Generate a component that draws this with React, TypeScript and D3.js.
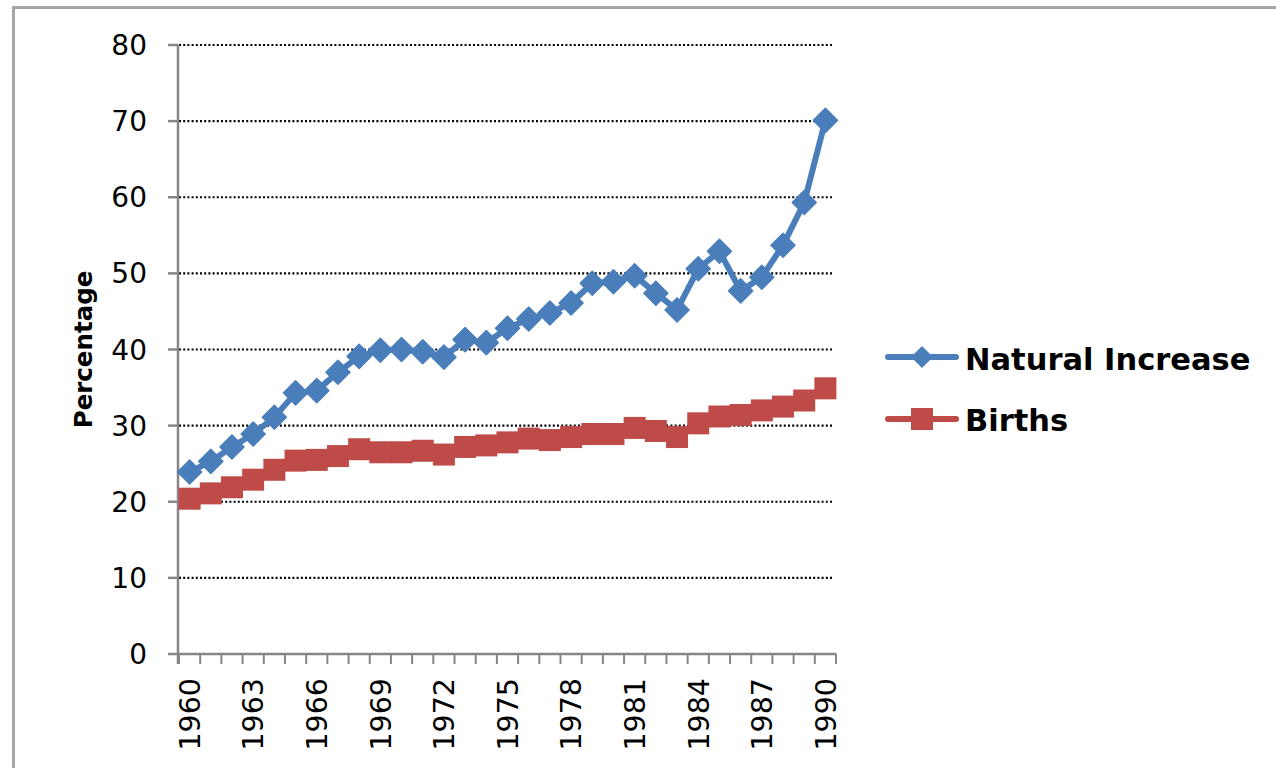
import React from "react";
import * as d3 from "d3";

const years = d3.range(1960, 1991).map(String);
const tickYears = years.filter((_, i) => i % 3 === 0);
const yTicks = [0, 10, 20, 30, 40, 50, 60, 70, 80];

const naturalIncrease = [
  23.9, 25.3, 27.2, 28.9, 31.1, 34.3, 34.6, 37.0, 39.1, 39.9, 40.0, 39.7, 39.0,
  41.3, 40.9, 42.8, 44.0, 44.8, 46.1, 48.7, 48.9, 49.7, 47.4, 45.2, 50.6, 52.9,
  47.7, 49.5, 53.7, 59.3, 70.1,
];
const births = [
  20.4, 21.1, 21.9, 22.9, 24.2, 25.4, 25.5, 26.0, 26.9, 26.5, 26.5, 26.7, 26.2,
  27.2, 27.4, 27.8, 28.3, 28.1, 28.5, 28.9, 28.9, 29.7, 29.3, 28.5, 30.3, 31.2,
  31.4, 32.0, 32.5, 33.3, 34.9,
];

const BLUE = "#4A7EBB";
const RED = "#BE4B48";
const AXIS = "#868686";
const FONT = "DejaVu Sans";

const diamond = (cx: number, cy: number, r: number) =>
  `M${cx},${cy - r}L${cx + r},${cy}L${cx},${cy + r}L${cx - r},${cy}Z`;

export default function App() {
  const width = 1276;
  const height = 768;
  const left = 179;
  const right = 836;
  const top = 45;
  const bottom = 654;

  const x = d3.scaleBand<string>().domain(years).range([left, right]).padding(0);
  const y = d3.scaleLinear().domain([0, 80]).range([bottom, top]);
  const cx = (yr: string) => (x(yr) as number) + x.bandwidth() / 2;

  const line = d3
    .line<number>()
    .x((_, i) => cx(years[i]))
    .y((d) => y(d));

  // tick marks sit between the categories
  const xTickPos = d3.range(years.length + 1).map((i) => left + i * x.bandwidth());

  return (
    <svg
      width={width}
      height={height}
      style={{ position: "absolute", left: 0, top: 0, background: "#fff" }}
    >
      <rect x={13.5} y={7.5} width={1400} height={900} fill="none" stroke="#a6a6a6" strokeWidth={3} />

      {/* gridlines */}
      {yTicks.slice(1).map((t) => (
        <line
          key={"g" + t}
          x1={left}
          x2={833}
          y1={y(t)}
          y2={y(t)}
          stroke="#000"
          strokeWidth={2.2}
          strokeDasharray="2 2.2"
        />
      ))}

      {/* y axis */}
      <line x1={left - 1} x2={left - 1} y1={top} y2={bottom + 10} stroke={AXIS} strokeWidth={2.5} />
      {yTicks.map((t) => (
        <g key={"y" + t}>
          <line x1={left - 11} x2={left - 1} y1={y(t)} y2={y(t)} stroke={AXIS} strokeWidth={2.5} />
          <text
            x={147}
            y={y(t)}
            dy="0.36em"
            textAnchor="end"
            fontFamily={FONT}
            fontSize={28}
            fill="#000"
          >
            {t}
          </text>
        </g>
      ))}
      <text
        transform={`translate(92, ${(top + bottom) / 2}) rotate(-90)`}
        textAnchor="middle"
        fontFamily={FONT}
        fontWeight="bold"
        fontSize={24.5}
      >
        Percentage
      </text>

      {/* x axis */}
      <line x1={left - 2} x2={right} y1={bottom} y2={bottom} stroke={AXIS} strokeWidth={2.5} />
      {xTickPos.map((p, i) => (
        <line key={"xt" + i} x1={p} x2={p} y1={bottom} y2={bottom + 10} stroke={AXIS} strokeWidth={2} />
      ))}
      {tickYears.map((yr) => (
        <text
          key={"xl" + yr}
          transform={`translate(${cx(yr)}, 678) rotate(-90)`}
          dy="0.36em"
          textAnchor="end"
          fontFamily={FONT}
          fontSize={28.5}
        >
          {yr}
        </text>
      ))}

      {/* Births */}
      <path d={line(births) || ""} fill="none" stroke={RED} strokeWidth={6} strokeLinejoin="round" strokeLinecap="round" />
      {births.map((v, i) => (
        <rect key={"b" + i} x={cx(years[i]) - 11} y={y(v) - 11} width={22} height={22} fill={RED} />
      ))}

      {/* Natural Increase */}
      <path d={line(naturalIncrease) || ""} fill="none" stroke={BLUE} strokeWidth={6} strokeLinejoin="round" strokeLinecap="round" />
      {naturalIncrease.map((v, i) => (
        <path key={"n" + i} d={diamond(cx(years[i]), y(v), 12)} fill={BLUE} stroke={BLUE} strokeWidth={1.5} strokeLinejoin="round" />
      ))}

      {/* legend */}
      <line x1={888} x2={956} y1={357} y2={357} stroke={BLUE} strokeWidth={6} strokeLinecap="round" />
      <path d={diamond(922, 357, 11)} fill={BLUE} />
      <text x={965} y={370} fontFamily={FONT} fontWeight="bold" fontSize={30.5}>
        Natural Increase
      </text>
      <line x1={888} x2={956} y1={419} y2={419} stroke={RED} strokeWidth={6} strokeLinecap="round" />
      <rect x={911} y={408} width={22} height={22} fill={RED} />
      <text x={965} y={431} fontFamily={FONT} fontWeight="bold" fontSize={30.5}>
        Births
      </text>
    </svg>
  );
}
